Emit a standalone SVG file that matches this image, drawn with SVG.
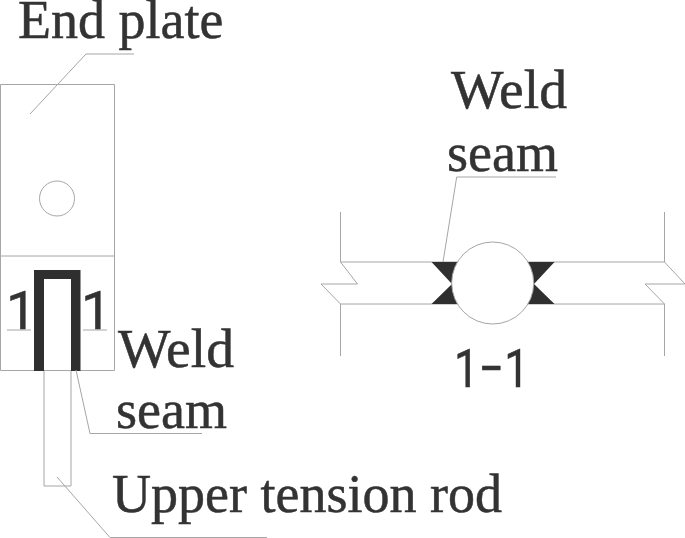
<svg xmlns="http://www.w3.org/2000/svg" width="685" height="538" viewBox="0 0 685 538">
<style>
.l{fill:none;stroke:#a6a6a6;stroke-width:1}
.w{fill:#2f2f2f;stroke:none}
.s{font-family:"Liberation Serif","Times New Roman",serif;font-size:54px;fill:#333;stroke:#333;stroke-width:.5}
.a{font-family:Roboto,"Liberation Sans",Arial,sans-serif;font-size:54px;fill:#333;stroke:#333;stroke-width:.5}
</style>
<rect width="685" height="538" fill="#fff"/>
<g id="end-plate">
<path class="l" d="M0.5 370.5V84.5H114.500V370.5H0.5M0.5 256H114.500"/>
<circle class="l" cx="57" cy="198.500" r="17.500"/>
</g>
<g id="tension-rod">
<path class="l" d="M44 370V486H71V370"/>
</g>
<g id="weld-u">
<path class="w" d="M34 270H80.500V371H71V279H44V371H34Z"/>
</g>
<g id="section-1-1">
<path class="l" d="M340.500 212V262H664.500V212M340.500 356V304H664.500V356"/>
<path class="l" d="M340.500 262L357.500 284H321L340.500 304M664.500 262L685 284H645L664.500 304"/>
<path class="w" d="M431.500 262H457L452 284ZM431.500 304H457L452 284ZM554.500 262H528L534 284ZM554.500 304H528L534 284Z"/>
<circle cx="492.700" cy="283" r="41" fill="#fff" stroke="#a6a6a6"/>
</g>
<g id="connectors">
<path class="l" d="M30 114L86 54H134"/>
<path class="l" d="M76 370L90 433.500H202"/>
<path class="l" d="M57 477L110 537.500H267"/>
<path class="l" d="M443 262L456.700 177H556"/>
<path class="l" d="M7 330H31M83 330H107"/>
</g>
<g id="labels">
<text class="s" x="18" y="38">End plate</text>
<text class="s" x="118" y="367" textLength="116" lengthAdjust="spacingAndGlyphs">Weld</text>
<text class="s" x="116" y="428">seam</text>
<text class="s" x="112" y="512">Upper tension rod</text>
<text class="s" x="451" y="108" textLength="116" lengthAdjust="spacingAndGlyphs">Weld</text>
<text class="s" x="447" y="171">seam</text>
<text class="a" x="6" y="329">1</text>
<text class="a" x="81" y="329">1</text>
<text class="a" x="454" y="387" textLength="75" lengthAdjust="spacingAndGlyphs">1−1</text>
</g>
</svg>
